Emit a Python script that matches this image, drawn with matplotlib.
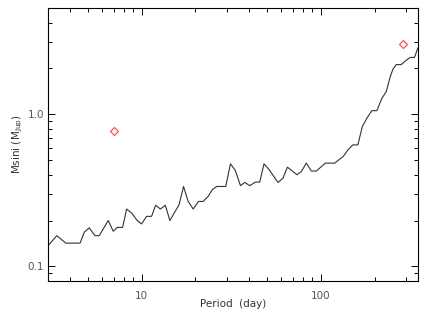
import numpy as np
import matplotlib
matplotlib.use("Agg")
from matplotlib import pyplot as plt
from matplotlib.ticker import FixedLocator, LogLocator, NullFormatter, FixedFormatter

# curve (period in days, Msini in Jupiter masses)
period = [3.01, 3.36, 3.77, 4.53, 4.79, 5.10, 5.49, 5.80, 6.51, 6.94,
          7.31, 7.83, 8.25, 8.80, 9.45, 10.0, 10.66, 11.37, 11.97, 12.73,
          13.57, 14.38, 16.19, 17.15, 18.20, 19.41, 20.79, 22.06, 23.52, 24.83,
          26.30, 29.52, 31.36, 33.35, 35.66, 37.68, 40.18, 43.22, 45.69, 48.28,
          51.29, 57.79, 61.63, 65.22, 73.77, 78.04, 83.22, 88.73, 94.62, 106.2,
          119.7, 133.6, 142.0, 151.4, 161.4, 170.9, 181.2, 193.2, 206.1, 219.8,
          232.5, 244.8, 253.1, 264.4, 281.9, 298.0, 316.5, 334.5, 349.0]
msini = [0.137, 0.159, 0.142, 0.142, 0.168, 0.179, 0.159, 0.159, 0.200, 0.170,
         0.180, 0.180, 0.238, 0.224, 0.200, 0.190, 0.213, 0.213, 0.252, 0.238,
         0.252, 0.200, 0.254, 0.335, 0.267, 0.238, 0.267, 0.267, 0.288, 0.319,
         0.335, 0.335, 0.472, 0.428, 0.339, 0.356, 0.339, 0.358, 0.358, 0.472,
         0.436, 0.356, 0.380, 0.449, 0.400, 0.420, 0.477, 0.423, 0.423, 0.477,
         0.477, 0.527, 0.583, 0.629, 0.629, 0.829, 0.941, 1.056, 1.056, 1.273,
         1.407, 1.765, 1.974, 2.122, 2.122, 2.247, 2.366, 2.366, 2.723]

# planets (red diamonds)
planet_period = [7.0, 290.0]
planet_msini = [0.78, 2.9]

text_col = '#555555'

fig = plt.figure(figsize=(4.27, 3.24), dpi=100)
ax = fig.add_axes([0.1124, 0.1327, 0.8666, 0.8426])

ax.plot(period, msini, color='#333333', linewidth=0.8)
ax.plot(planet_period, planet_msini, 'D', markersize=4.5, markerfacecolor='none',
        markeredgecolor='#ff4040', markeredgewidth=0.8)

ax.set_xscale('log')
ax.set_yscale('log')
ax.set_xlim(3, 350)
ax.set_ylim(0.08, 5)

ax.xaxis.set_major_locator(FixedLocator([10, 100]))
ax.xaxis.set_major_formatter(FixedFormatter(['10', '100']))
ax.xaxis.set_minor_locator(LogLocator(base=10, subs=np.arange(2, 10)))
ax.xaxis.set_minor_formatter(NullFormatter())
ax.yaxis.set_major_locator(FixedLocator([0.1, 1.0]))
ax.yaxis.set_major_formatter(FixedFormatter(['0.1', '1.0']))
ax.yaxis.set_minor_locator(LogLocator(base=10, subs=np.arange(2, 10)))
ax.yaxis.set_minor_formatter(NullFormatter())

ax.tick_params(which='both', direction='in', top=True, right=True,
               width=0.7, colors='black', labelcolor=text_col, labelsize=7.5)
ax.tick_params(which='major', length=5)
ax.tick_params(which='minor', length=3)
ax.tick_params(axis='x', pad=7)
ax.tick_params(axis='y', pad=3)

for s in ax.spines.values():
    s.set_linewidth(0.8)

ax.set_xlabel('Period  (day)', color='#333333', fontsize=7.5, labelpad=-1)
ax.set_ylabel(r'Msini (M$_{\rm Jup}$)', color='#333333', fontsize=7.5, labelpad=2)

fig.savefig('out.png', dpi=100)
